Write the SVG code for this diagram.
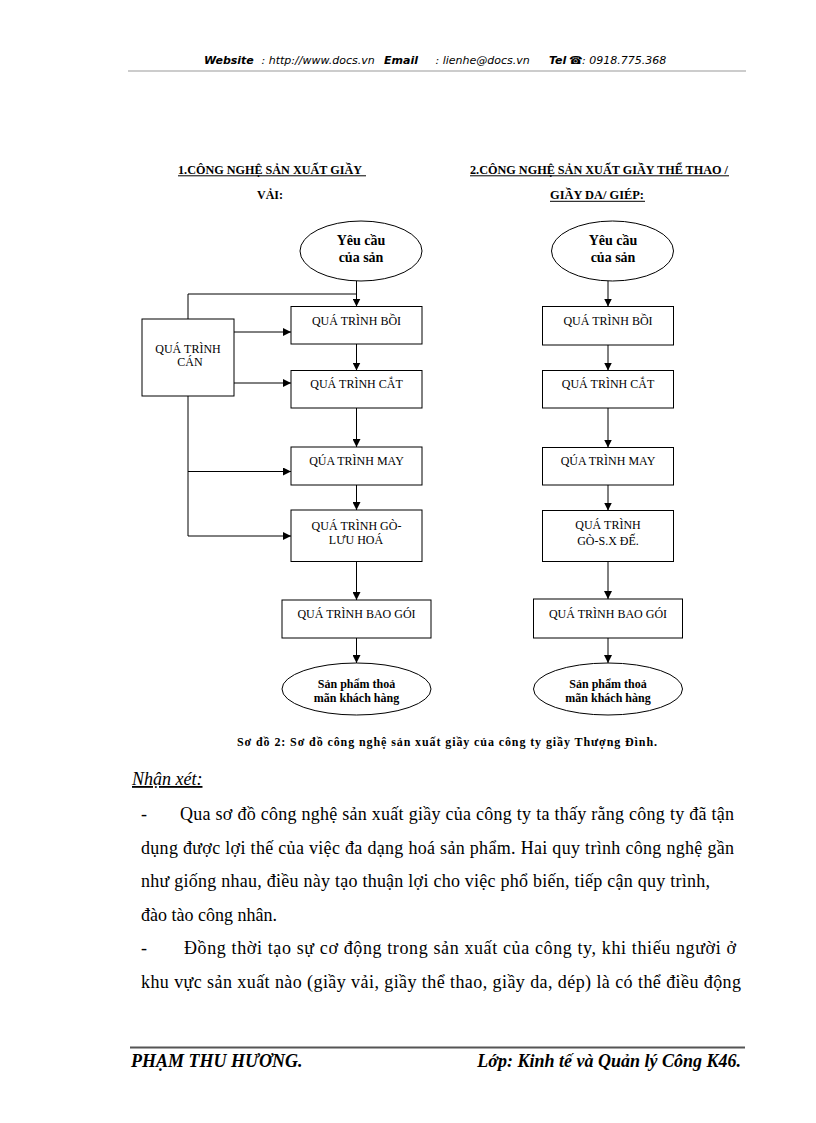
<svg xmlns="http://www.w3.org/2000/svg" width="816" height="1123" viewBox="0 0 816 1123">
<style>
.hdr{font-family:"DejaVu Sans","Liberation Sans",sans-serif;font-size:11px;font-style:italic;fill:#000}
.hb{font-weight:bold}
.ttl{font-family:"Liberation Serif",serif;font-size:12.5px;font-weight:bold;fill:#000}
.box{fill:#fff;stroke:#000;stroke-width:1}
.bt{font-family:"Liberation Serif",serif;font-size:12px;fill:#000;text-anchor:middle}
.et{font-family:"Liberation Serif",serif;font-size:14px;font-weight:bold;fill:#000;text-anchor:middle}
.et2{font-family:"Liberation Serif",serif;font-size:12px;font-weight:bold;fill:#000;text-anchor:middle}
.conn{fill:none;stroke:#000;stroke-width:1}
.body{font-family:"Liberation Serif",serif;font-size:18px;fill:#000}
.cap{font-family:"Liberation Serif",serif;font-size:12px;font-weight:bold;fill:#000}
.ft{font-family:"Liberation Serif",serif;font-size:18px;font-weight:bold;font-style:italic;fill:#000}
</style>
<defs>
<marker id="ah" viewBox="0 0 10 10" refX="10" refY="5" markerWidth="8" markerHeight="8" markerUnits="userSpaceOnUse" orient="auto">
<path d="M0,0 L10,5 L0,10 z" fill="#000"/>
</marker>
</defs>
<rect x="0" y="0" width="816" height="1123" fill="#fff"/>

<g id="header">
<text class="hdr" y="64"><tspan x="204" class="hb">Website</tspan><tspan x="258"> : http://www.docs.vn</tspan><tspan x="384" class="hb">Email</tspan><tspan x="432">  : lienhe@docs.vn</tspan><tspan x="549" class="hb">Tel</tspan><tspan x="569" class="hb">☎</tspan><tspan x="582">: 0918.775.368</tspan></text>
<line x1="128" y1="71" x2="746" y2="71" stroke="#999" stroke-width="1"/>
</g>

<g id="titles">
<text class="ttl" x="178" y="173.5" textLength="184" lengthAdjust="spacingAndGlyphs">1.CÔNG NGHỆ SẢN XUẤT GIẦY</text>
<line x1="178" y1="175.8" x2="366" y2="175.8" stroke="#000" stroke-width="1"/>
<text class="ttl" x="257" y="199" textLength="26" lengthAdjust="spacingAndGlyphs">VẢI:</text>
<text class="ttl" x="470" y="173.5" textLength="258" lengthAdjust="spacingAndGlyphs">2.CÔNG NGHỆ SẢN XUẤT GIẦY THỂ THAO /</text>
<line x1="470" y1="175.8" x2="729" y2="175.8" stroke="#000" stroke-width="1"/>
<text class="ttl" x="550" y="199" textLength="94" lengthAdjust="spacingAndGlyphs">GIẦY DA/ GIÉP:</text>
<line x1="550" y1="201.3" x2="645" y2="201.3" stroke="#000" stroke-width="1"/>
</g>

<g id="connectors">
<!-- left column -->
<path class="conn" d="M188,319 V294 H356.5"/>
<line class="conn" x1="356.5" y1="281" x2="356.5" y2="306.5" marker-end="url(#ah)"/>
<line class="conn" x1="234" y1="332" x2="291" y2="332" marker-end="url(#ah)"/>
<line class="conn" x1="234" y1="383" x2="291" y2="383" marker-end="url(#ah)"/>
<path class="conn" d="M188,396 V536"/>
<line class="conn" x1="188" y1="471.5" x2="291" y2="471.5" marker-end="url(#ah)"/>
<line class="conn" x1="188" y1="536" x2="291" y2="536" marker-end="url(#ah)"/>
<line class="conn" x1="356.5" y1="344" x2="356.5" y2="370.5" marker-end="url(#ah)"/>
<line class="conn" x1="356.5" y1="408" x2="356.5" y2="447" marker-end="url(#ah)"/>
<line class="conn" x1="356.5" y1="485" x2="356.5" y2="510" marker-end="url(#ah)"/>
<line class="conn" x1="356.5" y1="561.5" x2="356.5" y2="600" marker-end="url(#ah)"/>
<line class="conn" x1="356.5" y1="638" x2="356.5" y2="663" marker-end="url(#ah)"/>
<!-- right column -->
<line class="conn" x1="608" y1="281" x2="608" y2="306.5" marker-end="url(#ah)"/>
<line class="conn" x1="608" y1="345" x2="608" y2="370.5" marker-end="url(#ah)"/>
<line class="conn" x1="608" y1="408" x2="608" y2="447.5" marker-end="url(#ah)"/>
<line class="conn" x1="608" y1="485" x2="608" y2="510.5" marker-end="url(#ah)"/>
<line class="conn" x1="608" y1="561.5" x2="608" y2="599" marker-end="url(#ah)"/>
<line class="conn" x1="608" y1="638" x2="608" y2="663" marker-end="url(#ah)"/>
</g>

<g id="L-start">
<ellipse class="box" cx="361" cy="251" rx="61" ry="30"/>
<text class="et" x="361" y="245">Yêu cầu</text>
<text class="et" x="361" y="262">của sản</text>
</g>
<g id="L-can">
<rect class="box" x="142" y="319" width="92" height="77"/>
<text class="bt" x="188" y="352.5">QUÁ TRÌNH</text>
<text class="bt" x="190" y="366">CÁN</text>
</g>
<g id="L-boi">
<rect class="box" x="291" y="306.5" width="131" height="37.5"/>
<text class="bt" x="356.5" y="324.5">QUÁ TRÌNH BỒI</text>
</g>
<g id="L-cat">
<rect class="box" x="291" y="370.5" width="131" height="37.5"/>
<text class="bt" x="356.5" y="388">QUÁ TRÌNH CẮT</text>
</g>
<g id="L-may">
<rect class="box" x="291" y="447" width="131" height="38"/>
<text class="bt" x="356.5" y="465">QÚA TRÌNH MAY</text>
</g>
<g id="L-go">
<rect class="box" x="291" y="510" width="131" height="51.5"/>
<text class="bt" x="356.5" y="530">QUÁ TRÌNH GÒ-</text>
<text class="bt" x="356" y="544">LƯU HOÁ</text>
</g>
<g id="L-bao">
<rect class="box" x="282" y="600" width="149" height="38"/>
<text class="bt" x="356.5" y="618">QUÁ TRÌNH BAO GÓI</text>
</g>
<g id="L-end">
<ellipse class="box" cx="356.5" cy="689" rx="74.5" ry="26"/>
<text class="et2" x="356.5" y="688">Sản phẩm thoả</text>
<text class="et2" x="356.5" y="702">mãn khách hàng</text>
</g>

<g id="R-start">
<ellipse class="box" cx="612.5" cy="251" rx="61" ry="30"/>
<text class="et" x="613" y="245">Yêu cầu</text>
<text class="et" x="613" y="262">của sản</text>
</g>
<g id="R-boi">
<rect class="box" x="542.5" y="306.5" width="131" height="38.5"/>
<text class="bt" x="608" y="325">QUÁ TRÌNH BỒI</text>
</g>
<g id="R-cat">
<rect class="box" x="542.5" y="370.5" width="131" height="37.5"/>
<text class="bt" x="608" y="388">QUÁ TRÌNH CẮT</text>
</g>
<g id="R-may">
<rect class="box" x="542.5" y="447.5" width="131" height="37.5"/>
<text class="bt" x="608" y="465">QÚA TRÌNH MAY</text>
</g>
<g id="R-go">
<rect class="box" x="542.5" y="510.5" width="131" height="51"/>
<text class="bt" x="608" y="528.5">QUÁ TRÌNH</text>
<text class="bt" x="608" y="545">GÒ-S.X ĐẾ.</text>
</g>
<g id="R-bao">
<rect class="box" x="533.5" y="599" width="149" height="39"/>
<text class="bt" x="608" y="618">QUÁ TRÌNH BAO GÓI</text>
</g>
<g id="R-end">
<ellipse class="box" cx="608" cy="689" rx="74.5" ry="26"/>
<text class="et2" x="608" y="688">Sản phẩm thoả</text>
<text class="et2" x="608" y="702">mãn khách hàng</text>
</g>

<g id="caption">
<text class="cap" x="237" y="746" textLength="420" lengthAdjust="spacing">Sơ đồ 2: Sơ đồ công nghệ sản xuất giầy của công ty giầy Thượng Đình.</text>
</g>

<g id="body">
<text class="body" x="132" y="785" font-style="italic" text-decoration="underline">Nhận xét:</text>
<text class="body" x="141" y="820">-</text>
<text class="body" x="180" y="820" textLength="554" lengthAdjust="spacing">Qua sơ đồ công nghệ sản xuất giầy của công ty ta thấy rằng công ty đã tận</text>
<text class="body" x="141" y="853.5" textLength="593" lengthAdjust="spacing">dụng được lợi thế của việc đa dạng hoá sản phẩm. Hai quy trình công nghệ gần</text>
<text class="body" x="141" y="887" textLength="569" lengthAdjust="spacing">như giống nhau, điều này tạo thuận lợi cho việc phổ biến, tiếp cận quy trình,</text>
<text class="body" x="141" y="920.5">đào tào công nhân.</text>
<text class="body" x="141" y="954">-</text>
<text class="body" x="184" y="954" textLength="552" lengthAdjust="spacing">Đồng thời tạo sự cơ động trong sản xuất của công ty, khi thiếu người ở</text>
<text class="body" x="141" y="988" textLength="600" lengthAdjust="spacing">khu vực sản xuất nào (giầy vải, giầy thể thao, giầy da, dép) là có thể điều động</text>
</g>

<g id="footer">
<line x1="130" y1="1047.5" x2="745" y2="1047.5" stroke="#555" stroke-width="1.8"/>
<text class="ft" x="131" y="1067">PHẠM THU HƯƠNG.</text>
<text class="ft" x="741" y="1067" text-anchor="end">Lớp: Kinh tế và Quản lý Công K46.</text>
</g>
</svg>
